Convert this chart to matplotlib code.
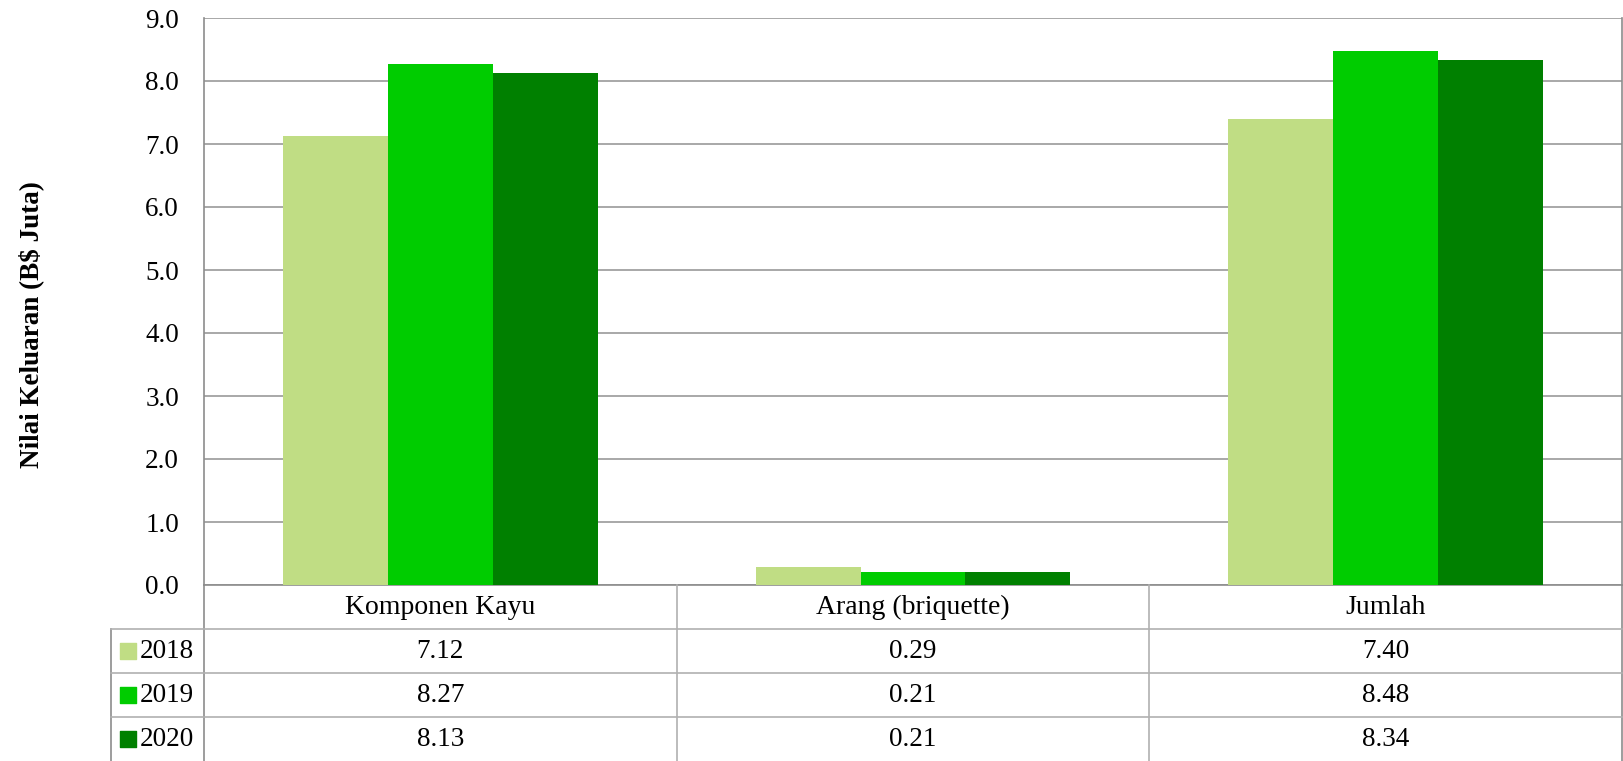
import numpy as np
import matplotlib.pyplot as plt

plt.rcParams['font.family'] = ['Liberation Serif', 'DejaVu Serif']

kategori = ['Komponen Kayu', 'Arang (briquette)', 'Jumlah']
tahun = ['2018', '2019', '2020']
nilai_2018 = [7.12, 0.29, 7.40]
nilai_2019 = [8.27, 0.21, 8.48]
nilai_2020 = [8.13, 0.21, 8.34]
warna = ['#C0DD84', '#00CC00', '#008000']

seri = [nilai_2018, nilai_2019, nilai_2020]

W, H = 1623, 761
fig = plt.figure(figsize=(W / 100, H / 100), dpi=100)

# posisi dalam piksel
x0, x1 = 204, 1622
y_top, y_bot = 18, 585
x_tab = 111

ax = fig.add_axes([x0 / W, 1 - y_bot / H, (x1 - x0) / W, (y_bot - y_top) / H])
x = np.arange(len(kategori)) + 0.5
lebar = 0.222
for i, (vals, c) in enumerate(zip(seri, warna)):
    ax.bar(x + (i - 1) * lebar, vals, width=lebar, color=c, zorder=3, label=tahun[i])

ax.set_xlim(0, 3)
ax.set_ylim(0, 9)
ax.set_yticks(np.arange(0, 9.1, 1))
ax.set_yticklabels([f'{v:.1f}' for v in np.arange(0, 9.1, 1)], fontsize=19.5)
ax.set_xticks([])
ax.tick_params(axis='y', length=0, pad=18)
ax.grid(axis='y', color='#9a9a9a', linewidth=1.2, zorder=0)
for s in ax.spines.values():
    s.set_color('#8c8c8c')
    s.set_linewidth(1.2)
ax.spines['top'].set_visible(False)

fig.text(31 / W, 1 - 325 / H, 'Nilai Keluaran (B$ Juta)', rotation=90,
         ha='center', va='center', fontsize=19.5, fontweight='bold')

# tabel data di bawah
tab = fig.add_axes([x0 / W, 0, (x1 - x0) / W, (H - y_bot) / H])
tab.set_xlim(0, 3)
tab.set_ylim(4, 0)
tab.axis('off')
px = 3 / (x1 - x0)
xl = -(x0 - x_tab) * px
garis = dict(color='#8c8c8c', linewidth=1.2, clip_on=False)
garis2 = dict(color='#b0b0b0', linewidth=1.2, clip_on=False)
for xv in [1, 2]:
    tab.plot([xv, xv], [0, 4], **garis2)
tab.plot([0, 0], [0, 4], **garis)
tab.plot([3, 3], [0, 4], **garis)
tab.plot([xl, xl], [1, 4], **garis)
for yv in [1, 2, 3]:
    tab.plot([xl, 3], [yv, yv], **garis2)

for j, k in enumerate(kategori):
    tab.text(x[j], 0.5, k, ha='center', va='center', fontsize=20)
for i, vals in enumerate(seri):
    for j, v in enumerate(vals):
        tab.text(x[j], i + 1.5, f'{v:.2f}', ha='center', va='center', fontsize=19.5)
    tab.scatter([xl + 17 * px], [i + 1.5], marker='s', s=125, color=warna[i], clip_on=False)
    tab.text(xl + 29 * px, i + 1.5, tahun[i], ha='left', va='center', fontsize=19.5)

fig.savefig('out.png', dpi=100)
